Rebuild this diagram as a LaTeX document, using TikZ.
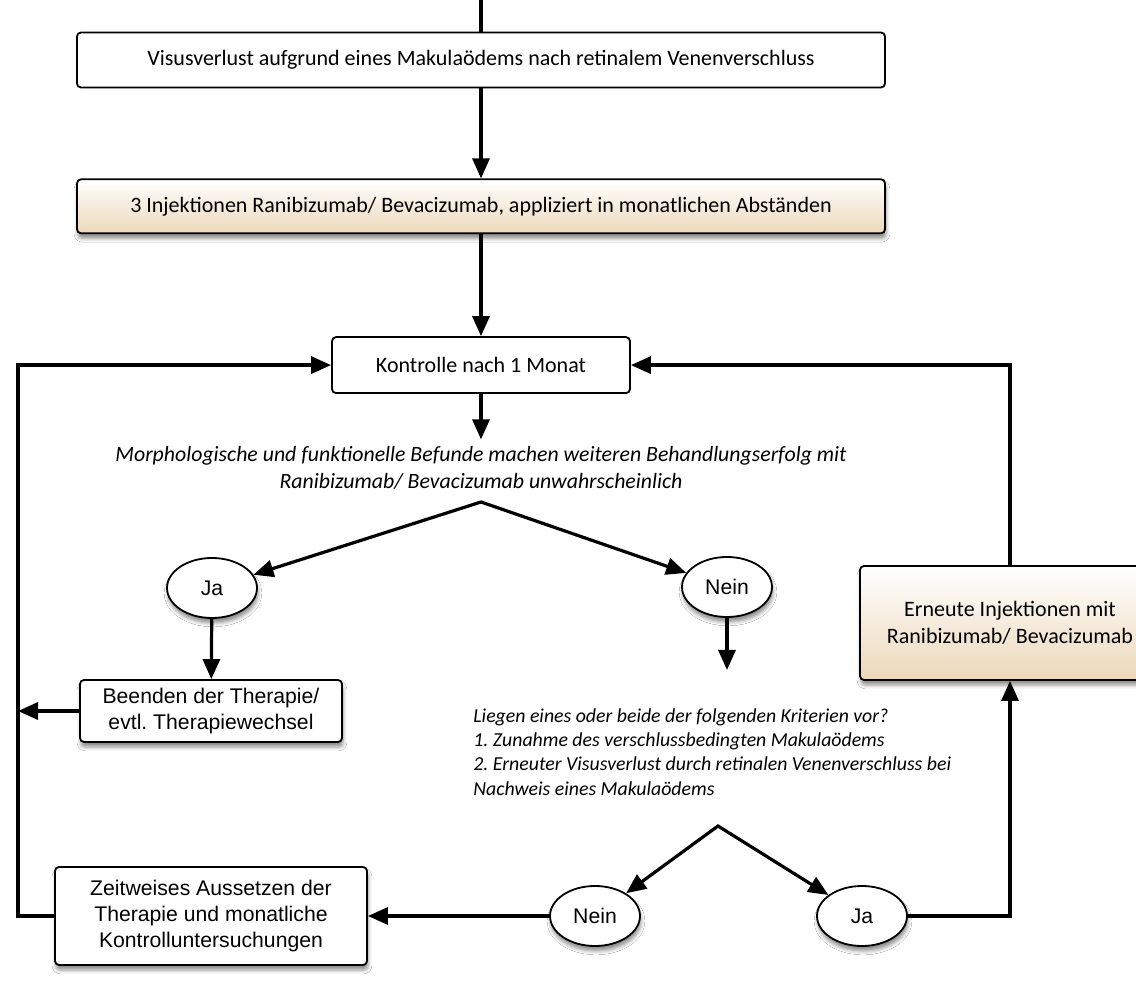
\documentclass[tikz,border=0pt]{standalone}
\usepackage{fontspec}
\setmainfont{Carlito}
\newfontfamily\helv{Liberation Sans}
\usetikzlibrary{arrows.meta,positioning,shapes.geometric,shadows,shadows.blur}
\definecolor{beige}{RGB}{236,216,186}

\begin{document}
\begin{tikzpicture}[x=0.5pt, y=-0.5pt,
  box/.style={draw, rounded corners=2pt, line width=0.9pt, fill=white, align=center, font=\fontsize{11}{13.5}\selectfont},
  inj/.style={box, top color=white, bottom color=beige, blur shadow={shadow xshift=0.5pt, shadow yshift=-2.5pt, shadow opacity=45}},
  hbox/.style={box, font=\helv\fontsize{10.6}{13}\selectfont, blur shadow={shadow xshift=0.5pt, shadow yshift=-2.5pt, shadow opacity=45}},
  yn/.style={ellipse, draw, line width=0.9pt, fill=white, minimum width=45pt, minimum height=30pt, inner sep=0pt, font=\helv\fontsize{10.6}{13}\selectfont, blur shadow={shadow xshift=0.5pt, shadow yshift=-2.5pt, shadow opacity=45}},
  ask/.style={font=\itshape\fontsize{10.9}{13.5}\selectfont, align=center},
  arr/.style={-{Triangle[length=10pt,width=8.5pt]}, line width=1.6pt},
  arrs/.style={{Triangle[length=10pt,width=8.5pt]}-{Triangle[length=10pt,width=8.5pt]}, line width=1.6pt}
]
\clip (0,0) rectangle (1136,999);
\useasboundingbox (0,0) rectangle (1136,999);
\fill[white] (0,0) rectangle (1136,999);

% main column
\coordinate (entry) at (481,0);
\node[box, minimum width=404pt, minimum height=27.5pt] (loss) at (481,60) {Visusverlust aufgrund eines Makulaödems nach retinalem Venenverschluss};
\node[inj, minimum width=404pt, minimum height=27pt, below=45pt of loss] (ivom) {3 Injektionen Ranibizumab/ Bevacizumab, appliziert in monatlichen Abständen};
\node[box, minimum width=149pt, minimum height=28pt, below=51pt of ivom] (ctrl) {Kontrolle nach 1 Monat};
\node[ask] (q1) at (481,468) {Morphologische und funktionelle Befunde machen weiteren Behandlungserfolg mit\\Ranibizumab/ Bevacizumab unwahrscheinlich};
\coordinate (fork1) at (481,502);

% first decision
\node[yn] (ja1) at (212,588) {Ja};
\node[yn] (nein1) at (727,587) {Nein};
\node[hbox, minimum width=131pt, minimum height=31pt] (stop) at (211,711) {Beenden der Therapie/\\evtl.\ Therapiewechsel};
\coordinate (rail) at (18,711);
\coordinate (critin) at (727,670);

% second decision
\node[font=\itshape\fontsize{9.9}{12.2}\selectfont, align=left, anchor=north west, inner sep=0pt] (q2) at (473,708) {Liegen eines oder beide der folgenden Kriterien vor?\\1.\ Zunahme des verschlussbedingten Makulaödems\\2.\ Erneuter Visusverlust durch retinalen Venenverschluss bei\\Nachweis eines Makulaödems};
\coordinate (fork2) at (718,826);
\node[yn] (nein2) at (595,916) {Nein};
\node[yn] (ja2) at (862,916) {Ja};
\node[hbox, minimum width=156pt, minimum height=49pt] (pause) at (211,916) {Zeitweises Aussetzen der\\Therapie und monatliche\\Kontrolluntersuchungen};
\node[inj, minimum width=150pt, minimum height=57pt] (again) at (1010,623) {Erneute Injektionen mit\\Ranibizumab/ Bevacizumab};

\draw[line width=1.6pt] (entry) -- (loss);
\draw[arr] (loss) -- (ivom);
\draw[arr] (ivom) -- (ctrl);
\draw[arr] (ctrl) -- (q1);
\draw[arrs] (ja1) -- (fork1) -- (nein1);
\draw[arr] (ja1) -- (stop);
\draw[arr] (stop) -- (stop.west -| rail);
\draw[arr] (pause) -- (pause.west -| rail) |- (ctrl);
\draw[arr] (nein1) -- (critin);
\draw[arrs] (nein2) -- (fork2) -- (ja2);
\draw[arr] (nein2) -- (pause);
\draw[arr] (ja2) -| (again);
\draw[arr] (again) |- (ctrl);
\end{tikzpicture}
\end{document}
